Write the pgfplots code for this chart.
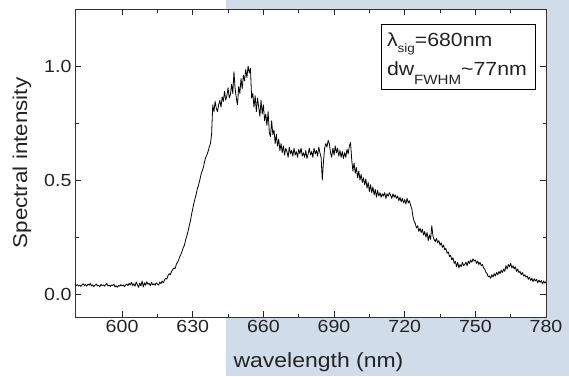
\documentclass[border=0pt]{standalone}
\usepackage{fontspec}
\setmainfont[FakeStretch=1.12]{Liberation Sans}
\usepackage{pgfplots}
\pgfplotsset{compat=1.18}
\usetikzlibrary{calc,backgrounds}
\definecolor{bgblue}{RGB}{208,220,233}
\definecolor{txt}{RGB}{35,35,35}
\begin{document}
\begin{tikzpicture}
\begin{axis}[
 scale only axis, width=471pt, height=308pt,
 xmin=580, xmax=780, ymin=-0.1, ymax=1.25,
 xtick={600,630,...,780}, minor x tick num=1,
 ytick={0,0.5,1.0}, minor y tick num=1,
 tick align=inside, major tick length=6pt, minor tick length=3.5pt,
 every tick/.style={black!85, line width=0.6pt},
 axis line style={line width=0.8pt, black!80},
 axis background/.style={fill=white},
 /pgf/number format/assume math mode=true,
 yticklabel style={/pgf/number format/.cd, fixed, fixed zerofill, precision=1},
 ticklabel style={font=\fontsize{17.5}{20}\selectfont, text=txt},
 xlabel={wavelength (nm)}, ylabel={Spectral intensity},
 xlabel style={font=\fontsize{20.5}{24}\selectfont, text=txt, xshift=8pt, yshift=-13pt},
 ylabel style={font=\fontsize{20}{24}\selectfont, text=txt, yshift=6pt},
 clip=true,
]
\addplot[black, line width=0.8pt, line join=round] coordinates {
(580,0.045) (580.5,0.038) (581,0.042) (581.5,0.036) (582,0.040) (582.5,0.034) (583,0.041) (583.5,0.046) (584,0.037) (584.5,0.043)
(585,0.035) (585.5,0.044) (586,0.039) (586.5,0.048) (587,0.036) (587.5,0.041) (588,0.033) (588.5,0.040) (589,0.045) (589.5,0.036)
(590,0.039) (590.5,0.032) (591,0.043) (591.5,0.038) (592,0.041) (592.5,0.035) (593,0.042) (593.5,0.047) (594,0.036) (594.5,0.040)
(595,0.034) (595.5,0.041) (596,0.038) (596.5,0.044) (597,0.032) (597.5,0.037) (598,0.030) (598.5,0.039) (599,0.035) (599.5,0.042)
(600,0.036) (600.5,0.041) (601,0.033) (601.5,0.040) (602,0.045) (602.5,0.037) (603,0.048) (603.5,0.040) (604,0.052) (604.5,0.038)
(605,0.046) (605.5,0.035) (606,0.054) (606.5,0.041) (607,0.030) (607.5,0.049) (608,0.036) (608.5,0.058) (609,0.032) (609.5,0.050)
(610,0.039) (610.5,0.055) (611,0.043) (611.5,0.048) (612,0.037) (612.5,0.052) (613,0.041) (613.5,0.046) (614,0.039) (614.5,0.050)
(615,0.044) (615.5,0.040) (616,0.053) (616.5,0.046) (617,0.058) (617.5,0.050) (618,0.062) (618.5,0.070) (619,0.066) (619.5,0.082)
(620,0.090) (620.5,0.085) (621,0.100) (621.5,0.108) (622,0.115) (622.5,0.112) (623,0.130) (623.5,0.140) (624,0.150) (624.5,0.165)
(625,0.175) (625.5,0.190) (626,0.205) (626.5,0.215) (627,0.240) (627.5,0.255) (628,0.275) (628.5,0.300) (629,0.320) (629.5,0.350)
(630,0.375) (630.5,0.400) (631,0.420) (631.5,0.440) (632,0.465) (632.5,0.480) (633,0.500) (633.5,0.525) (634,0.540) (634.5,0.555)
(635,0.580) (635.5,0.600) (636,0.610) (636.5,0.625) (637,0.645) (637.5,0.660) (638,0.700) (638.5,0.830) (639,0.800) (639.5,0.845)
(640,0.815) (640.5,0.800) (641,0.830) (641.5,0.850) (642,0.820) (642.5,0.865) (643,0.845) (643.5,0.890) (644,0.850) (644.5,0.870)
(645,0.905) (645.5,0.860) (646,0.875) (646.5,0.920) (647,0.880) (647.5,0.975) (648,0.900) (648.5,0.860) (649,0.830) (649.5,0.910)
(650,0.880) (650.5,0.945) (651,0.900) (651.5,0.960) (652,0.935) (652.5,0.985) (653,0.950) (653.5,1.000) (654,0.970) (654.5,0.990)
(655,0.860) (655.5,0.880) (656,0.820) (656.5,0.870) (657,0.800) (657.5,0.860) (658,0.820) (658.5,0.780) (659,0.850) (659.5,0.790)
(660,0.830) (660.5,0.760) (661,0.790) (661.5,0.740) (662,0.800) (662.5,0.710) (663,0.690) (663.5,0.760) (664,0.700) (664.5,0.720)
(665,0.660) (665.5,0.700) (666,0.650) (666.5,0.680) (667,0.630) (667.5,0.660) (668,0.620) (668.5,0.650) (669,0.610) (669.5,0.640)
(670,0.625) (670.5,0.600) (671,0.645) (671.5,0.615) (672,0.630) (672.5,0.605) (673,0.640) (673.5,0.610) (674,0.625) (674.5,0.600)
(675,0.635) (675.5,0.615) (676,0.640) (676.5,0.605) (677,0.620) (677.5,0.600) (678,0.630) (678.5,0.595) (679,0.615) (679.5,0.640)
(680,0.610) (680.5,0.625) (681,0.600) (681.5,0.640) (682,0.615) (682.5,0.630) (683,0.605) (683.5,0.645) (684,0.620) (684.5,0.600)
(685,0.500) (685.5,0.580) (686,0.640) (686.5,0.660) (687,0.645) (687.5,0.675) (688,0.660) (688.5,0.620) (689,0.600) (689.5,0.640)
(690,0.610) (690.5,0.650) (691,0.620) (691.5,0.640) (692,0.605) (692.5,0.630) (693,0.600) (693.5,0.625) (694,0.595) (694.5,0.620)
(695,0.600) (695.5,0.635) (696,0.615) (696.5,0.650) (697,0.665) (697.5,0.590) (698,0.540) (698.5,0.575) (699,0.530) (699.5,0.555)
(700,0.510) (700.5,0.540) (701,0.500) (701.5,0.525) (702,0.490) (702.5,0.510) (703,0.480) (703.5,0.505) (704,0.465) (704.5,0.490)
(705,0.450) (705.5,0.480) (706,0.445) (706.5,0.470) (707,0.435) (707.5,0.460) (708,0.425) (708.5,0.455) (709,0.430) (709.5,0.445)
(710,0.425) (710.5,0.440) (711,0.430) (711.5,0.445) (712,0.420) (712.5,0.440) (713,0.430) (713.5,0.445) (714,0.435) (714.5,0.420)
(715,0.440) (715.5,0.425) (716,0.435) (716.5,0.420) (717,0.430) (717.5,0.410) (718,0.425) (718.5,0.405) (719,0.420) (719.5,0.400)
(720,0.415) (720.5,0.395) (721,0.420) (721.5,0.400) (722,0.410) (722.5,0.390) (723,0.375) (723.5,0.340) (724,0.320) (724.5,0.310)
(725,0.290) (725.5,0.300) (726,0.275) (726.5,0.290) (727,0.270) (727.5,0.285) (728,0.260) (728.5,0.275) (729,0.250) (729.5,0.270)
(730,0.235) (730.5,0.260) (731,0.240) (731.5,0.300) (732,0.255) (732.5,0.240) (733,0.230) (733.5,0.245) (734,0.225) (734.5,0.235)
(735,0.215) (735.5,0.225) (736,0.205) (736.5,0.215) (737,0.195) (737.5,0.200) (738,0.180) (738.5,0.185) (739,0.165) (739.5,0.170)
(740,0.150) (740.5,0.160) (741,0.135) (741.5,0.145) (742,0.120) (742.5,0.140) (743,0.115) (743.5,0.130) (744,0.120) (744.5,0.140)
(745,0.125) (745.5,0.130) (746,0.140) (746.5,0.125) (747,0.145) (747.5,0.135) (748,0.150) (748.5,0.140) (749,0.155) (749.5,0.145)
(750,0.150) (750.5,0.135) (751,0.145) (751.5,0.130) (752,0.140) (752.5,0.125) (753,0.130) (753.5,0.115) (754,0.110) (754.5,0.095)
(755,0.090) (755.5,0.075) (756,0.080) (756.5,0.070) (757,0.085) (757.5,0.075) (758,0.090) (758.5,0.080) (759,0.095) (759.5,0.085)
(760,0.100) (760.5,0.090) (761,0.105) (761.5,0.095) (762,0.110) (762.5,0.100) (763,0.125) (763.5,0.110) (764,0.130) (764.5,0.120)
(765,0.135) (765.5,0.115) (766,0.125) (766.5,0.110) (767,0.120) (767.5,0.100) (768,0.110) (768.5,0.095) (769,0.100) (769.5,0.085)
(770,0.095) (770.5,0.080) (771,0.085) (771.5,0.075) (772,0.080) (772.5,0.065) (773,0.075) (773.5,0.060) (774,0.070) (774.5,0.055)
(775,0.068) (775.5,0.058) (776,0.065) (776.5,0.050) (777,0.062) (777.5,0.052) (778,0.060) (778.5,0.045) (779,0.058) (779.5,0.048)
(780,0.055)
};
\draw[black, line width=0.6pt, fill=white] (rel axis cs:0.651,0.951) rectangle (rel axis cs:0.978,0.738);
\node[anchor=base west, inner sep=0pt, text=txt, font=\fontsize{19}{22}\selectfont] at (rel axis cs:0.662,0.878)
  {λ\raisebox{-5.5pt}{\fontsize{12}{12}\selectfont sig}=680nm};
\node[anchor=base west, inner sep=0pt, text=txt, font=\fontsize{19}{22}\selectfont] at (rel axis cs:0.662,0.783)
  {dw\raisebox{-9pt}{\fontsize{13.5}{13.5}\selectfont FWHM}\textasciitilde 77nm};
\end{axis}
\begin{scope}[on background layer]
\fill[bgblue] ($(current axis.south west)+(151pt,-59pt)$) rectangle ($(current axis.south west)+(494pt,317pt)$);
\end{scope}
\path[use as bounding box] ($(current axis.south west)+(-75pt,-59pt)$) rectangle ($(current axis.south west)+(494pt,317pt)$);
\end{tikzpicture}
\end{document}
